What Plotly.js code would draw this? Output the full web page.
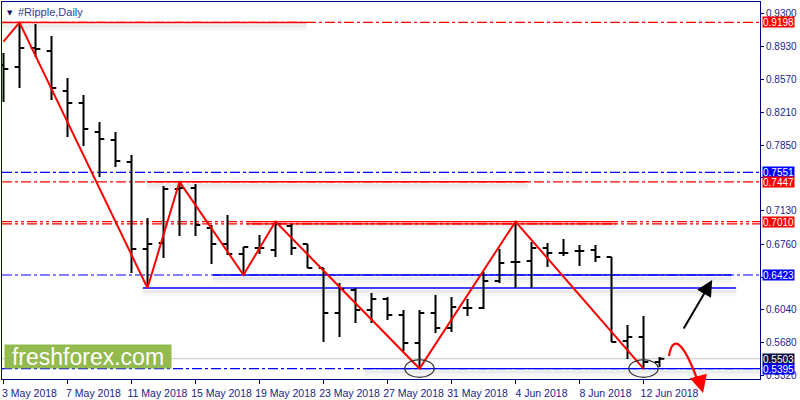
<!DOCTYPE html>
<html><head><meta charset="utf-8">
<script src="https://cdn.plot.ly/plotly-3.0.1.min.js"></script>
<style>html,body{margin:0;padding:0;background:#fff}#chart{width:800px;height:400px}</style>
</head><body><div id="chart"></div>
<script>
// ---- data ----
const dates = ['2018-05-03','2018-05-04','2018-05-05','2018-05-06','2018-05-07','2018-05-08','2018-05-09','2018-05-10',
 '2018-05-11','2018-05-12','2018-05-13','2018-05-14','2018-05-15','2018-05-16','2018-05-17','2018-05-18','2018-05-19',
 '2018-05-20','2018-05-21','2018-05-22','2018-05-23','2018-05-24','2018-05-25','2018-05-26','2018-05-27','2018-05-28',
 '2018-05-29','2018-05-30','2018-05-31','2018-06-01','2018-06-02','2018-06-03','2018-06-04','2018-06-05','2018-06-06',
 '2018-06-07','2018-06-08','2018-06-09','2018-06-10','2018-06-11','2018-06-12','2018-06-13'];
const opens = [0.8731,0.8709,0.8918,0.8885,0.8445,0.8313,0.7994,0.7906,0.7665,0.6708,0.6774,0.7368,0.7379,0.6939,0.6763,
 0.6654,0.6719,0.6697,0.6961,0.6763,0.6500,0.6005,0.6258,0.6038,0.6159,0.5983,0.5675,0.6005,0.5840,0.6060,0.6060,0.6357,
 0.6566,0.6577,0.6719,0.6665,0.6686,0.6697,0.6621,0.5697,0.5741,0.5466];
const highs = [0.8863,0.9198,0.9182,0.9050,0.8588,0.8401,0.8104,0.7994,0.7742,0.7049,0.7401,0.7447,0.7423,0.6972,0.7082,
 0.6730,0.6862,0.7010,0.6983,0.6763,0.6500,0.6335,0.6280,0.6225,0.6181,0.6038,0.6038,0.6203,0.6181,0.6159,0.6456,0.6708,
 0.7010,0.6785,0.6774,0.6818,0.6752,0.6752,0.6621,0.5873,0.5972,0.5521];
const lows = [0.8324,0.8478,0.8819,0.8346,0.7940,0.7841,0.7500,0.7610,0.6445,0.6280,0.6610,0.6851,0.6851,0.6544,0.6643,
 0.6423,0.6654,0.6621,0.6643,0.6500,0.5686,0.5741,0.5895,0.5895,0.5928,0.5587,0.5395,0.5785,0.5796,0.5972,0.6049,0.6335,
 0.6280,0.6280,0.6511,0.6632,0.6522,0.6566,0.5686,0.5499,0.5395,0.5411];
const closes = [0.8687,0.8918,0.8907,0.8478,0.8313,0.8027,0.7917,0.7676,0.6708,0.6763,0.7368,0.7379,0.6972,0.6763,0.6654,
 0.6730,0.6719,0.6983,0.6719,0.6500,0.6005,0.6269,0.6038,0.6159,0.5983,0.5675,0.6005,0.5840,0.6071,0.6060,0.6357,0.6555,
 0.6566,0.6719,0.6665,0.6665,0.6686,0.6621,0.5686,0.5741,0.5466,0.5503];

const zigDates  = ['2018-05-03','2018-05-04','2018-05-12','2018-05-14','2018-05-18','2018-05-20','2018-05-29','2018-06-04','2018-06-12'];
const zigPrices = [0.8987,0.9198,0.6280,0.7447,0.6423,0.7010,0.5395,0.7010,0.5395];

const xTickVals = ['2018-05-03','2018-05-07','2018-05-11','2018-05-15','2018-05-19','2018-05-23','2018-05-27',
 '2018-05-31','2018-06-04','2018-06-08','2018-06-12'];
const yTickVals = [0.9300,0.8930,0.8570,0.8210,0.7850,0.7490,0.7130,0.6760,0.6400,0.6040,0.5680,0.5320];
const yTickText = ['0.9300','0.8930','0.8570','0.8210','0.7850','','0.7130','0.6760','','0.6040','0.5680','0.5320'];

const levelPrices = [0.9198,0.7551,0.7447,0.7010,0.6423,0.5503,0.5395];
const levelLabels = ['0.9198','0.7551','0.7447','0.7010','0.6423','0.5503','0.5395'];
const supportPrice = 0.6280;
const lowPivotDates = ['2018-05-29','2018-06-12'];
const lowPivotPrice = 0.5395;

// ---- styling ----
const RED = '#ff0000', BLUE = '#0000ff', NAVY = '#1c1c8a';
const DD = '10px,3px,3px,3px';
const DDD = '10px,3px,3px,3px,3px,3px';
const XMIN = '2018-05-02 21:45', XMAX = '2018-06-19 06:45';
const YMIN = 0.5280, YMAX = 0.9423;

const shapes = [];
function full(y, color, dash, w) {
  shapes.push({type:'line', xref:'paper', yref:'y', x0:0, x1:1, y0:y, y1:y, layer:'below',
    line:{color:color, width:w||1, dash:dash||'solid'}});
}
function seg(x0, x1, y, color, w) {
  shapes.push({type:'line', xref:'x', yref:'y', x0:x0, x1:x1, y0:y-0.0052, y1:y-0.0052, layer:'below',
    line:{color:'rgba(0,0,0,0.035)', width:7}});
  shapes.push({type:'line', xref:'x', yref:'y', x0:x0, x1:x1, y0:y-0.0038, y1:y-0.0038, layer:'below',
    line:{color:'rgba(0,0,0,0.045)', width:3}});
  shapes.push({type:'line', xref:'x', yref:'y', x0:x0, x1:x1, y0:y, y1:y, layer:'below',
    line:{color:color, width:w||1}});
}

full(levelPrices[0], RED, DD, 1.3);
seg(XMIN, '2018-05-21 23:00', levelPrices[0], RED, 1.5);
full(levelPrices[1], BLUE, DD, 1.2);
full(levelPrices[2], RED, DD, 1.3);
seg('2018-05-11 23:00', '2018-06-04 19:00', levelPrices[2], RED, 1.5);
full(levelPrices[3], RED, DDD, 1.2);
full(levelPrices[3]-0.0026, RED, DDD, 1.2);
seg('2018-05-18 05:00', '2018-06-10 07:00', levelPrices[3], RED, 1.2);
shapes.push({type:'line', xref:'x', yref:'y', x0:'2018-05-18 05:00', x1:'2018-06-10 07:00',
  y0:levelPrices[3]-0.0026, y1:levelPrices[3]-0.0026, layer:'below', line:{color:RED, width:1.2}});
full(levelPrices[4], BLUE, DD, 1.2);
seg('2018-05-16 02:00', '2018-06-17 12:00', levelPrices[4], BLUE, 1.3);
seg('2018-05-11 17:00', '2018-06-17 19:00', supportPrice, BLUE, 1.3);
full(levelPrices[5], '#c8c8c8', 'solid', 1);
full(levelPrices[6], BLUE, DD, 1.2);
seg('2018-05-25 14:00', XMAX, levelPrices[6], BLUE, 1.3);

function shiftDate(s, h) { const t = new Date(s + 'T00:00:00Z').getTime() + h*3600e3; return new Date(t).toISOString().replace('T',' ').slice(0,16); }
lowPivotDates.forEach(d => {
  shapes.push({type:'circle', xref:'x', yref:'y', x0:shiftDate(d,-22), x1:shiftDate(d,22),
    y0:lowPivotPrice-0.0098, y1:lowPivotPrice+0.0098, layer:'above', line:{color:'#333333', width:1.2}});
});

const xMinMs = new Date(XMIN.replace(' ','T')+':00Z').getTime();
const xMaxMs = new Date(XMAX.replace(' ','T')+':00Z').getTime();
function px(dateStr, hours) { const t = new Date(dateStr+'T00:00:00Z').getTime() + (hours||0)*3600e3; return (t - xMinMs)/(xMaxMs - xMinMs); }
function py(p) { return (p - YMIN)/(YMAX - YMIN); }

const c0 = [px('2018-06-13', 14.2), py(0.5532)];
const c1 = [px('2018-06-13', 18.8), py(0.5730)];
const c2 = [px('2018-06-14', 8.2), py(0.5785)];
const c3 = [px('2018-06-15', 12.7), py(0.5192)];
shapes.push({type:'path', xref:'paper', yref:'paper', layer:'above',
  path:`M ${c0[0]},${c0[1]} C ${c1[0]},${c1[1]} ${c2[0]},${c2[1]} ${c3[0]},${c3[1]}`,
  line:{color:RED, width:2.2}});

const annotations = [];
const labelBg = [RED, BLUE, RED, RED, BLUE, '#101040', BLUE];
levelPrices.forEach((p,i) => {
  annotations.push({xref:'paper', yref:'y', x:1, y:p, xanchor:'left', yanchor:'middle', xshift:2,
    text:levelLabels[i], showarrow:false, bgcolor:labelBg[i], borderpad:0, height:10,
    font:{family:'Liberation Sans, Arial, sans-serif', size:10, color:'#ffffff'}});
});
annotations.push({xref:'paper', yref:'paper', x:0, y:1, xanchor:'left', yanchor:'top', xshift:3, yshift:-5,
  text:'▼', showarrow:false, font:{family:'DejaVu Sans', size:7, color:'#101060'}});
annotations.push({xref:'paper', yref:'paper', x:0, y:1, xanchor:'left', yanchor:'top', xshift:14, yshift:-2,
  text:'#Ripple,Daily', showarrow:false, font:{family:'Liberation Sans, Arial, sans-serif', size:11, color:'#2c3c90'}});
annotations.push({xref:'paper', yref:'paper', x:0, y:0, xanchor:'left', yanchor:'bottom', xshift:2, yshift:10,
  text:'freshforex.com', showarrow:false, bgcolor:'rgba(140,182,66,0.93)', width:164, height:21, borderpad:1,
  font:{family:'Liberation Sans, Arial, sans-serif', size:23, color:'#ffffff'}});
annotations.push({xref:'x', yref:'y', axref:'x', ayref:'y', x:'2018-06-16 07:00', y:0.6368,
  ax:'2018-06-14 11:00', ay:0.5818, showarrow:true, arrowhead:2, arrowsize:1.6, arrowwidth:2, arrowcolor:'#000000', text:''});
annotations.push({xref:'paper', yref:'paper', axref:'pixel', ayref:'pixel', x:px('2018-06-15', 17.3), y:py(0.5126),
  ax:-3, ay:-11, showarrow:true, arrowhead:2, arrowsize:1.6, arrowwidth:2.2, arrowcolor:RED, text:''});

const traces = [
  {type:'ohlc', x:dates, open:opens, high:highs, low:lows, close:closes, tickwidth:0.3,
   increasing:{line:{color:'#000000', width:2}}, decreasing:{line:{color:'#000000', width:2}},
   hoverinfo:'skip', showlegend:false},
  {type:'scatter', mode:'lines', x:zigDates, y:zigPrices, line:{color:RED, width:2},
   hoverinfo:'skip', showlegend:false}
];

const layout = {
  width:800, height:400, margin:{l:2, r:40, t:2, b:21},
  paper_bgcolor:'#ffffff', plot_bgcolor:'#ffffff', showlegend:false,
  font:{family:'Liberation Sans, Arial, sans-serif', size:10, color:NAVY},
  xaxis:{type:'date', range:[XMIN, XMAX], tickvals:xTickVals, tickformat:'%-d %b %Y',
    showgrid:false, zeroline:false, showline:true, linecolor:'#000080', linewidth:1, mirror:true,
    ticks:'outside', ticklen:4, tickcolor:'#000080', ticklabelshift:26, rangeslider:{visible:false},
    tickfont:{family:'Liberation Sans, Arial, sans-serif', size:10.5, color:NAVY}},
  yaxis:{side:'right', range:[YMIN, YMAX], tickvals:yTickVals, ticktext:yTickText,
    showgrid:false, zeroline:false, showline:true, linecolor:'#000080', linewidth:1, mirror:true,
    ticks:'outside', ticklen:3, tickcolor:'#000080',
    tickfont:{family:'Liberation Sans, Arial, sans-serif', size:10, color:NAVY}},
  shapes:shapes, annotations:annotations
};

Plotly.newPlot('chart', traces, layout, {staticPlot:true, displayModeBar:false});
</script></body></html>
